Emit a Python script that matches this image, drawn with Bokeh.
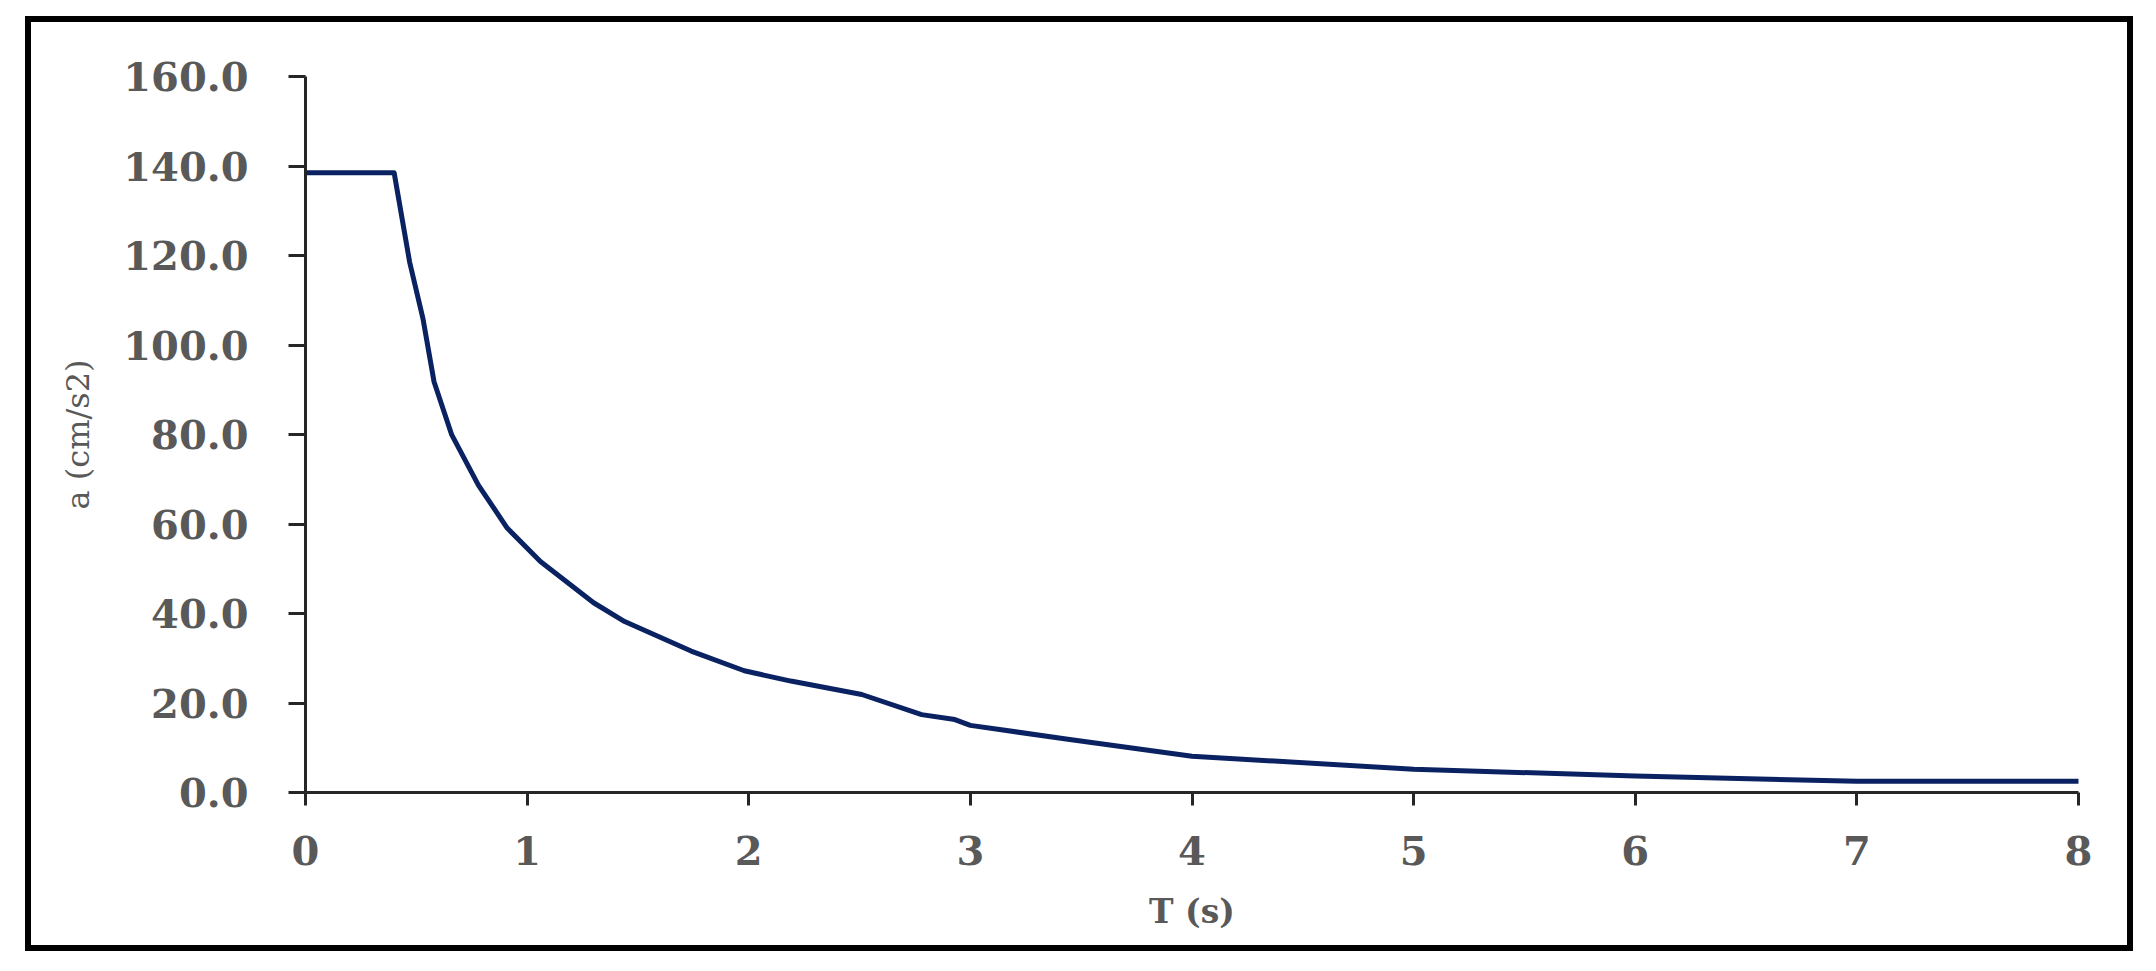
from bokeh.plotting import figure
from bokeh.models import Range1d, FixedTicker, NumeralTickFormatter
from bokeh.embed import file_html
from bokeh.resources import INLINE

# Data
period_s = [0.0, 0.40, 0.47, 0.53, 0.58, 0.66, 0.78, 0.91, 1.06, 1.30, 1.44, 1.74,
            1.98, 2.19, 2.51, 2.78, 2.93, 3.00, 3.44, 4.00, 5.00, 6.00, 7.00, 8.00]
accel_cms2 = [138.5, 138.5, 118.5, 105.9, 91.8, 79.9, 68.7, 59.1, 51.6, 42.4, 38.2, 31.6,
              27.2, 24.9, 21.9, 17.4, 16.3, 15.0, 11.9, 8.1, 5.2, 3.7, 2.5, 2.5]
x_ticks = [0, 1, 2, 3, 4, 5, 6, 7, 8]
y_ticks = [0, 20, 40, 60, 80, 100, 120, 140, 160]
x_title = "T (s)"
y_title = "a (cm/s2)"

FONT = "DejaVu Serif"
GREY = "#595959"

p = figure(width=2108, height=935,
           x_range=Range1d(0, 8), y_range=Range1d(0, 160),
           output_backend="svg", toolbar_location=None,
           min_border_left=274, min_border_right=61,
           min_border_top=54, min_border_bottom=165,
           styles={"margin-left": "17px", "margin-top": "8px",
                   "transform": "translate(8px, 8px)",
                   "border": "6px solid black"})

p.outline_line_color = None
p.grid.grid_line_color = None
p.background_fill_color = "white"
p.border_fill_color = "white"

p.line(period_s, accel_cms2, line_color="#0a2262", line_width=5,
       line_join="round", line_cap="round")

for ax in (p.xaxis[0], p.yaxis[0]):
    ax.axis_line_color = "#262626"
    ax.axis_line_width = 3
    ax.major_tick_line_color = "#262626"
    ax.major_tick_line_width = 3
    ax.major_tick_in = 0
    ax.minor_tick_line_color = None
    ax.major_label_text_font = FONT
    ax.major_label_text_font_style = "bold"
    ax.major_label_text_color = GREY
    ax.major_label_text_font_size = "40px"
    ax.axis_label_text_font = FONT
    ax.axis_label_text_color = GREY

p.xaxis.ticker = FixedTicker(ticks=x_ticks)
p.yaxis.ticker = FixedTicker(ticks=y_ticks)
p.yaxis.formatter = NumeralTickFormatter(format="0.0")

p.xaxis.major_tick_out = 13
p.yaxis.major_tick_out = 17
p.xaxis.major_label_standoff = 30
p.yaxis.major_label_standoff = 40

p.xaxis.axis_label = x_title
p.xaxis.axis_label_text_font_style = "bold"
p.xaxis.axis_label_text_font_size = "33px"
p.xaxis.axis_label_standoff = 24

p.yaxis.axis_label = y_title
p.yaxis.axis_label_text_font_style = "normal"
p.yaxis.axis_label_text_font_size = "32px"
p.yaxis.axis_label_standoff = 23

open("out.html", "w").write(file_html(p, INLINE))
